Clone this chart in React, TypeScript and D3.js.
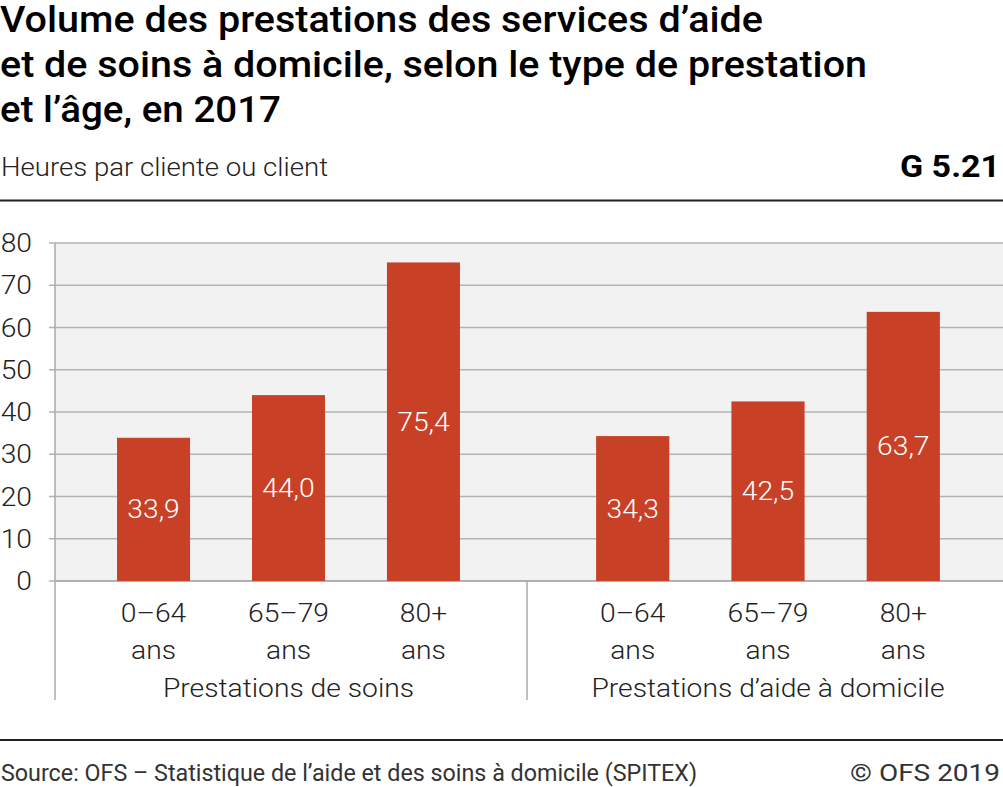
import React from "react";
import * as d3 from "d3";

const groups = ["Prestations de soins", "Prestations d’aide à domicile"];
const ageLines1 = ["0–64", "65–79", "80+"];
const ageLine2 = "ans";
const soins = [33.9, 44.0, 75.4];
const aide = [34.3, 42.5, 63.7];
const yTicks = [0, 10, 20, 30, 40, 50, 60, 70, 80];
const titleLines = [
  "Volume des prestations des services d’aide",
  "et de soins à domicile, selon le type de prestation",
  "et l’âge, en 2017",
];
const titleWidths = [763, 867, 281];

const W = 1003;
const H = 787;
const FONT = "Roboto, 'Noto Sans', sans-serif";
const BAR = "#c84127";
const SX = 1.13;
const FS = 25;

function T(props: { x: number; y: number; anchor?: string; fill?: string; size?: number; children: React.ReactNode }) {
  const { x, y, anchor = "start", fill = "#222", size = FS, children } = props;
  return (
    <text
      transform={`translate(${x},${y}) scale(${SX},1)`}
      fontSize={size}
      fontWeight={300}
      fill={fill}
      textAnchor={anchor}
    >
      {children}
    </text>
  );
}

export default function App() {
  const plotL = 55;
  const plotR = 1003;
  const plotT = 243;
  const plotB = 581;
  const divX = 527;
  const y = d3.scaleLinear().domain([0, 80]).range([plotB, plotT]);
  const g1 = d3.scaleBand().domain(ageLines1).range([86, 491]).paddingInner(0.459).paddingOuter(0.23);
  const g2 = d3.scaleBand().domain(ageLines1).range([565, 971]).paddingInner(0.459).paddingOuter(0.23);
  const series = [
    { vals: soins, sc: g1, name: groups[0] },
    { vals: aide, sc: g2, name: groups[1] },
  ];
  const fmt = (v: number) => v.toFixed(1).replace(".", ",");
  return (
    <svg width={W} height={H} style={{ display: "block", position: "absolute", left: 0, top: 0 }} fontFamily={FONT}>
      <rect width={W} height={H} fill="#fff" />
      {titleLines.map((t, i) => (
        <text key={i} x={0} y={32 + i * 45} fontSize={36} fontWeight={500} fill="#000" textLength={titleWidths[i]} lengthAdjust="spacingAndGlyphs">{t}</text>
      ))}
      <text x={1} y={176} fontSize={26} fontWeight={300} fill="#222" textLength={327} lengthAdjust="spacingAndGlyphs">Heures par cliente ou client</text>
      <text x={1000} y={177} fontSize={32} fontWeight={700} textAnchor="end" fill="#000" textLength={100} lengthAdjust="spacingAndGlyphs">G 5.21</text>
      <line x1={0} x2={W} y1={200.5} y2={200.5} stroke="#222" strokeWidth={2} />
      <rect x={plotL} y={plotT} width={plotR - plotL} height={plotB - plotT} fill="#f2f2f2" />
      {yTicks.map((t) => (
        <g key={t}>
          <line x1={plotL - 6} x2={plotR} y1={y(t)} y2={y(t)} stroke="#b3b3b3" strokeWidth={1.5} />
          <T x={32} y={y(t) + 9} anchor="end">{t}</T>
        </g>
      ))}
      <line x1={plotL} x2={plotL} y1={plotT} y2={700} stroke="#aaa" strokeWidth={1.5} />
      <line x1={divX} x2={divX} y1={plotB} y2={700} stroke="#aaa" strokeWidth={1.5} />
      <line x1={plotL} x2={plotR} y1={plotB} y2={plotB} stroke="#aaa" strokeWidth={1.5} />
      {series.map((s, si) => (
        <g key={si}>
          {s.vals.map((v, i) => {
            const bx = s.sc(ageLines1[i])!;
            const bw = s.sc.bandwidth();
            return (
              <g key={i}>
                <rect x={bx} y={y(v)} width={bw} height={plotB - y(v)} fill={BAR} />
                <T x={bx + bw / 2} y={(y(v) + plotB) / 2 + 9} anchor="middle" fill="#fff">{fmt(v)}</T>
                <T x={bx + bw / 2} y={622} anchor="middle">{ageLines1[i]}</T>
                <T x={bx + bw / 2} y={659} anchor="middle">{ageLine2}</T>
              </g>
            );
          })}
          <T x={(s.sc.range()[0] + s.sc.range()[1]) / 2} y={697} anchor="middle">{s.name}</T>
        </g>
      ))}
      <line x1={0} x2={W} y1={740} y2={740} stroke="#222" strokeWidth={2} />
      <text x={1} y={781} fontSize={23} fill="#333" textLength={696} lengthAdjust="spacingAndGlyphs">Source: OFS – Statistique de l’aide et des soins à domicile (SPITEX)</text>
      <text x={1000} y={781} fontSize={23} fill="#333" textAnchor="end" textLength={150} lengthAdjust="spacingAndGlyphs">© OFS 2019</text>
    </svg>
  );
}
